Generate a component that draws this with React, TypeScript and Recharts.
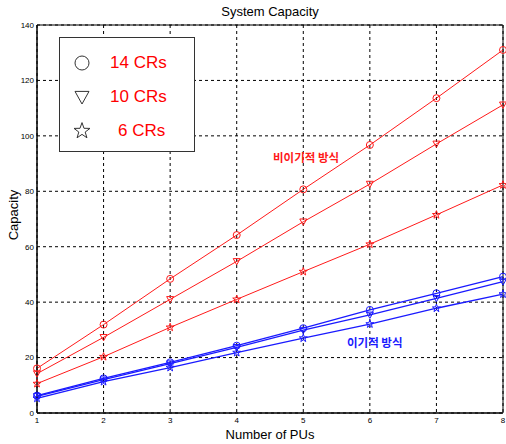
import React from 'react';
import {
  CartesianGrid, Line, LineChart, ReferenceArea, XAxis, YAxis,
} from 'recharts';

const pus = [1, 2, 3, 4, 5, 6, 7, 8];
const yTicks = [0, 20, 40, 60, 80, 100, 120, 140];

// 비이기적 방식 (red)
const unselfish14 = [16.1, 31.9, 48.4, 64.2, 80.7, 96.7, 113.6, 131.0];
const unselfish10 = [14.2, 27.3, 41.0, 54.7, 69.0, 82.6, 97.1, 111.2];
const unselfish6 = [10.6, 20.3, 30.9, 41.0, 51.0, 60.9, 71.5, 82.3];

// 이기적 방식 (blue)
const selfish14 = [6.3, 12.5, 18.3, 24.3, 30.6, 37.2, 43.2, 49.2];
const selfish10 = [6.0, 12.0, 17.8, 23.7, 29.9, 35.4, 41.4, 47.4];
const selfish6 = [5.3, 11.3, 16.4, 21.8, 27.0, 32.1, 37.8, 42.9];

const legendItems = [
  { shape: 'circle', label: '14 CRs' },
  { shape: 'triangle', label: '10 CRs' },
  { shape: 'star', label: '6 CRs' },
];

const data = pus.map((pu, i) => ({
  pu,
  u14: unselfish14[i],
  u10: unselfish10[i],
  u6: unselfish6[i],
  s14: selfish14[i],
  s10: selfish10[i],
  s6: selfish6[i],
}));

const RED = '#ff1a1a';
const BLUE = '#1a1aff';
const FONT = '"Liberation Sans", Arial, sans-serif';
const KFONT = '"Noto Sans CJK KR", "Liberation Sans", sans-serif';

function starPoints(cx: number, cy: number, R: number) {
  const r = R * 0.4;
  const pts: string[] = [];
  for (let k = 0; k < 10; k++) {
    const rad = k % 2 === 0 ? R : r;
    const a = -Math.PI / 2 + (k * Math.PI) / 5;
    pts.push(`${cx + rad * Math.cos(a)},${cy + rad * Math.sin(a)}`);
  }
  return pts.join(' ');
}

function Marker({ shape, cx, cy, size, color, width = 1 }: {
  shape: string; cx: number; cy: number; size: number; color: string; width?: number;
}) {
  if (shape === 'circle') {
    return <circle cx={cx} cy={cy} r={size} fill="none" stroke={color} strokeWidth={width} />;
  }
  if (shape === 'triangle') {
    const s = size;
    return (
      <polygon
        points={`${cx - s},${cy - s * 0.8} ${cx + s},${cy - s * 0.8} ${cx},${cy + s}`}
        fill="none" stroke={color} strokeWidth={width}
      />
    );
  }
  return <polygon points={starPoints(cx, cy, size * 1.2)} fill="none" stroke={color} strokeWidth={width} />;
}

function makeDot(shape: string, color: string) {
  return (props: any) => {
    const { cx, cy, index } = props;
    return <Marker key={`${shape}-${index}`} shape={shape} cx={cx} cy={cy} size={3.5} color={color} />;
  };
}

const series = [
  { key: 'u14', color: RED, shape: 'circle', w: 1 },
  { key: 'u10', color: RED, shape: 'triangle', w: 1 },
  { key: 'u6', color: RED, shape: 'star', w: 1 },
  { key: 's14', color: BLUE, shape: 'circle', w: 1.3 },
  { key: 's10', color: BLUE, shape: 'triangle', w: 1.3 },
  { key: 's6', color: BLUE, shape: 'star', w: 1.3 },
];

export default function App() {
  return (
    <div style={{ position: 'relative', width: 506, height: 444, background: '#fff', fontFamily: FONT }}>
      <style>{'body{margin:0}'}</style>
      <LineChart width={506} height={444} data={data} margin={{ top: 25, right: 3, bottom: 0, left: 0 }}>
        <CartesianGrid stroke="#000" strokeDasharray="3 3" />
        <XAxis
          dataKey="pu"
          type="number"
          domain={[1, 8]}
          ticks={pus}
          height={31}
          tickSize={0}
          tickMargin={4}
          axisLine={{ stroke: '#000' }}
          tick={{ fontSize: 8, fill: '#000', fontFamily: FONT }}
        />
        <YAxis
          type="number"
          domain={[0, 140]}
          ticks={yTicks}
          width={37}
          tickSize={0}
          tickMargin={3}
          axisLine={{ stroke: '#000' }}
          tick={{ fontSize: 8, fill: '#000', fontFamily: FONT }}
        />
        <ReferenceArea x1={1} x2={8} y1={0} y2={140} fill="none" stroke="#000" strokeOpacity={1} />
        {series.map((s) => (
          <Line
            key={s.key}
            dataKey={s.key}
            stroke={s.color}
            strokeWidth={s.w}
            dot={makeDot(s.shape, s.color)}
            activeDot={false}
            isAnimationActive={false}
          />
        ))}
      </LineChart>

      <div style={{ position: 'absolute', left: 0, width: 540, top: 4, textAlign: 'center', fontSize: 13 }}>
        System Capacity
      </div>
      <div style={{ position: 'absolute', left: 0, width: 540, top: 427, textAlign: 'center', fontSize: 13 }}>
        Number of PUs
      </div>
      <div
        style={{
          position: 'absolute', left: 13, top: 215, fontSize: 13,
          transform: 'translate(-50%, -50%) rotate(-90deg)', whiteSpace: 'nowrap',
        }}
      >
        Capacity
      </div>
      <div style={{ position: 'absolute', left: 273, top: 149, fontSize: 11.5, fontWeight: 700, color: RED, fontFamily: KFONT, lineHeight: '16px' }}>
        비이기적 방식
      </div>
      <div style={{ position: 'absolute', left: 347, top: 334, fontSize: 11.5, fontWeight: 700, color: BLUE, fontFamily: KFONT, lineHeight: '16px' }}>
        이기적 방식
      </div>

      <div
        style={{
          position: 'absolute', left: 59, top: 37, width: 134, height: 113,
          border: '1px solid #333', background: '#fff',
        }}
      >
        {legendItems.map((item, i) => (
          <div
            key={item.label}
            style={{ position: 'absolute', left: 0, top: 10 + i * 34, height: 30, width: 134, display: 'flex', alignItems: 'center' }}
          >
            <svg width={40} height={30} style={{ marginLeft: 2 }}>
              <Marker shape={item.shape} cx={20} cy={15} size={7} color="#333" />
            </svg>
            <span style={{ color: 'red', fontSize: 17, marginLeft: i === 2 ? 16 : 8 }}>{item.label}</span>
          </div>
        ))}
      </div>
    </div>
  );
}
